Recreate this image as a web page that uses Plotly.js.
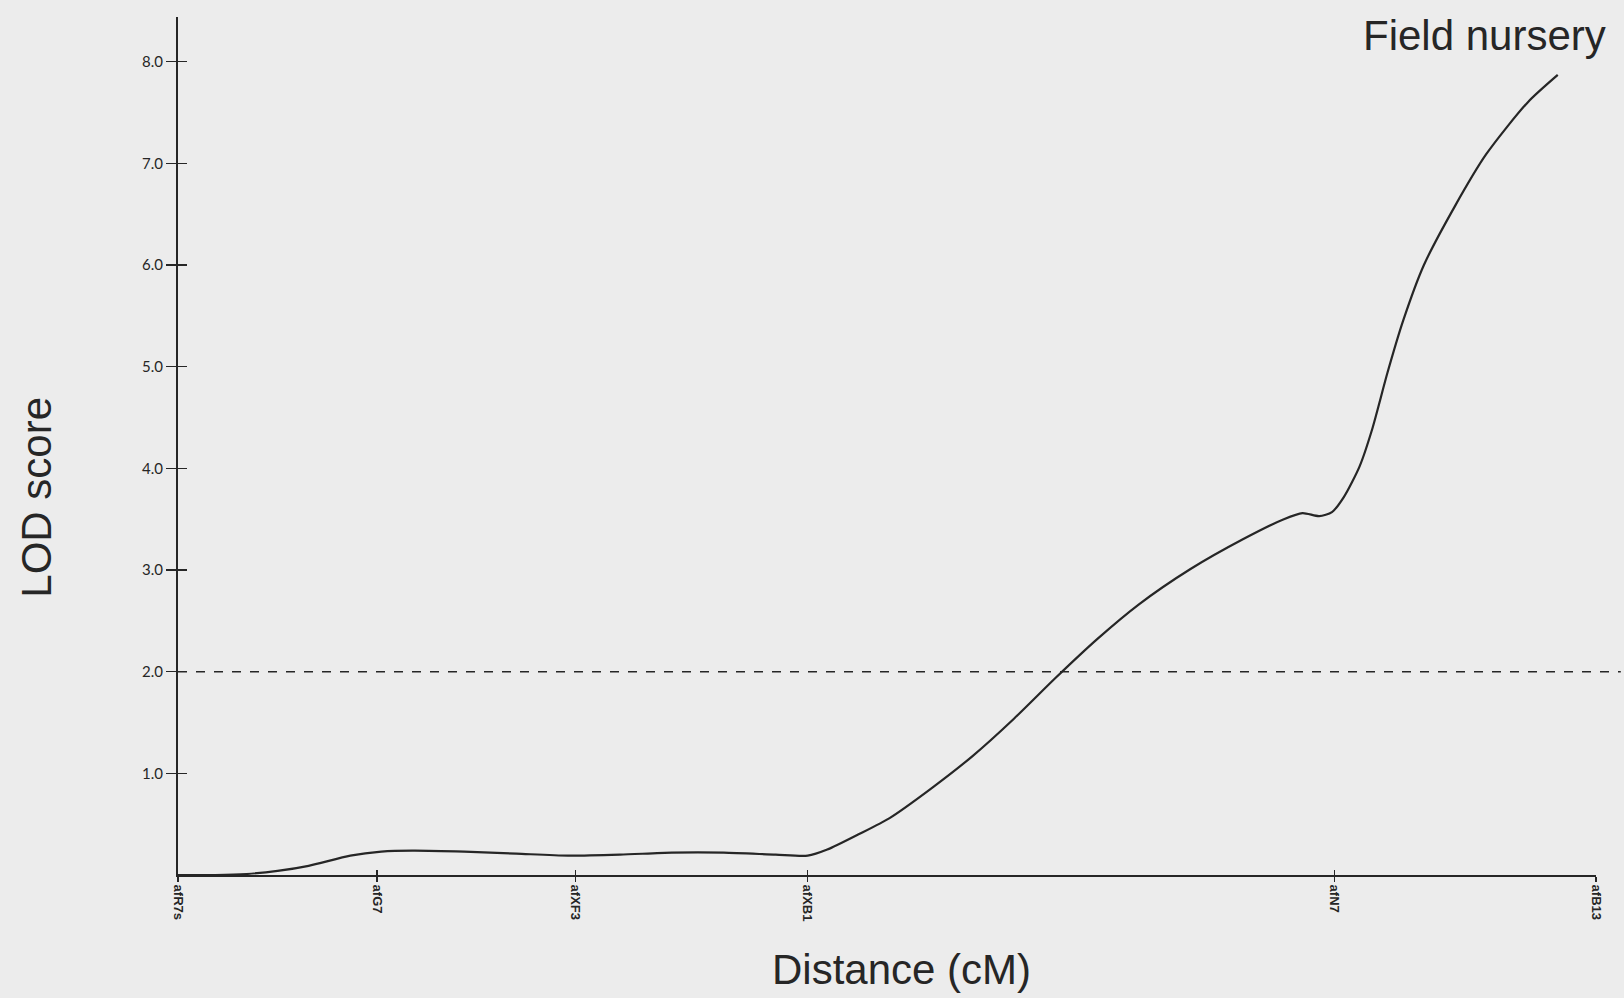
<!DOCTYPE html>
<html>
<head>
<meta charset="utf-8">
<script src="https://cdn.plot.ly/plotly-3.0.1.min.js"></script>
<style>
html,body{margin:0;padding:0;background:#ececec;}
#chart{width:1624px;height:998px;}
</style>
</head>
<body>
<div id="chart"></div>
<script>
// Marker positions (cM) and names
const markerNames = ["afR7s", "afG7", "afXF3", "afXB1", "afN7", "afB13"];
const markerPos = [0, 9.94, 19.83, 31.43, 57.73, 70.78];

// LOD profile
const distance = [0, 1.86, 3.42, 4.97, 6.52, 8.60, 10.15, 11.70, 14.29, 16.88, 19.47, 22.06, 24.65, 27.24, 29.83, 31.43, 32.41, 33.97, 35.52, 37.59, 39.66, 41.74, 43.81, 45.88, 47.95, 50.54, 53.13, 55.20, 56.13, 56.96, 57.60, 58.20, 58.98, 59.60, 60.37, 61.15, 62.19, 63.74, 65.30, 67.37, 68.87];
const lod = [0.0, 0.0, 0.01, 0.04, 0.09, 0.19, 0.23, 0.24, 0.23, 0.21, 0.19, 0.20, 0.22, 0.22, 0.20, 0.19, 0.25, 0.40, 0.56, 0.85, 1.17, 1.54, 1.94, 2.32, 2.66, 3.01, 3.30, 3.50, 3.56, 3.53, 3.57, 3.72, 4.02, 4.38, 4.94, 5.45, 6.00, 6.58, 7.09, 7.60, 7.87];

// Threshold
const threshold = 2.0;

// Y ticks
const yTickVals = [1, 2, 3, 4, 5, 6, 7, 8];
const yTickText = ["1.0", "2.0", "3.0", "4.0", "5.0", "6.0", "7.0", "8.0"];

const ink = "#262626";
const xRange = [0, 70.78];
const yRange = [0, 8.44];

const traces = [
  {
    x: distance, y: lod, type: "scatter", mode: "lines",
    line: {color: ink, width: 2.2, shape: "spline", smoothing: 0.7},
    hoverinfo: "x+y", showlegend: false, cliponaxis: false
  },
  {
    x: distance, y: lod, xaxis: "x2", yaxis: "y2", type: "scatter", mode: "lines",
    line: {color: "rgba(0,0,0,0)", width: 0}, hoverinfo: "skip", showlegend: false
  }
];

const layout = {
  width: 1624, height: 998,
  paper_bgcolor: "#ececec", plot_bgcolor: "rgba(0,0,0,0)",
  margin: {l: 178, r: 28, t: 17, b: 123},
  showlegend: false,
  font: {family: "Liberation Sans, Arial, sans-serif", color: ink},
  xaxis: {
    range: xRange, showgrid: false, zeroline: false,
    showline: true, linecolor: ink, linewidth: 2,
    tickmode: "array", tickvals: markerPos, ticktext: markerNames,
    ticks: "outside", ticklen: 5, tickwidth: 1.5, tickcolor: ink,
    tickangle: 90,
    tickfont: {family: "Liberation Sans Narrow, Liberation Sans, sans-serif", size: 13, weight: "bold", color: ink},
    fixedrange: true
  },
  yaxis: {
    range: yRange, showgrid: false, zeroline: false,
    showline: true, linecolor: ink, linewidth: 2,
    tickmode: "array", tickvals: yTickVals, ticktext: yTickText,
    ticks: "outside", ticklen: 10, tickwidth: 1.5, tickcolor: ink,
    tickfont: {family: "Lato, Open Sans, sans-serif", size: 15, color: ink},
    fixedrange: true
  },
  xaxis2: {
    overlaying: "x", matches: "x", range: xRange, showgrid: false, zeroline: false,
    showline: false, tickmode: "array", tickvals: markerPos, showticklabels: false,
    ticks: "inside", ticklen: 5, tickwidth: 1.5, tickcolor: ink, side: "bottom"
  },
  yaxis2: {
    overlaying: "y", matches: "y", range: yRange, showgrid: false, zeroline: false,
    showline: false, tickmode: "array", tickvals: yTickVals, showticklabels: false,
    ticks: "inside", ticklen: 9, tickwidth: 1.5, tickcolor: ink, side: "left"
  },
  shapes: [
    {
      type: "line", xref: "paper", yref: "y",
      x0: 0, x1: 1.0175, y0: threshold, y1: threshold,
      line: {color: ink, width: 1.5, dash: "dash"}
    }
  ],
  annotations: [
    {
      text: "LOD score", xref: "paper", yref: "paper", x: -0.100, y: 0.44,
      xanchor: "center", yanchor: "middle", textangle: -90, showarrow: false,
      font: {family: "Liberation Sans, Arial, sans-serif", size: 42, color: ink}
    },
    {
      text: "Distance (cM)", xref: "paper", yref: "paper", x: 0.51, y: -0.11,
      xanchor: "center", yanchor: "middle", showarrow: false,
      font: {family: "Liberation Sans, Arial, sans-serif", size: 42, color: ink}
    },
    {
      text: "Field nursery", xref: "paper", yref: "paper", x: 0.9214, y: 0.978,
      xanchor: "center", yanchor: "middle", showarrow: false,
      font: {family: "Liberation Sans, Arial, sans-serif", size: 42, color: ink}
    }
  ]
};

Plotly.newPlot("chart", traces, layout, {displayModeBar: false, staticPlot: true});
</script>
</body>
</html>
